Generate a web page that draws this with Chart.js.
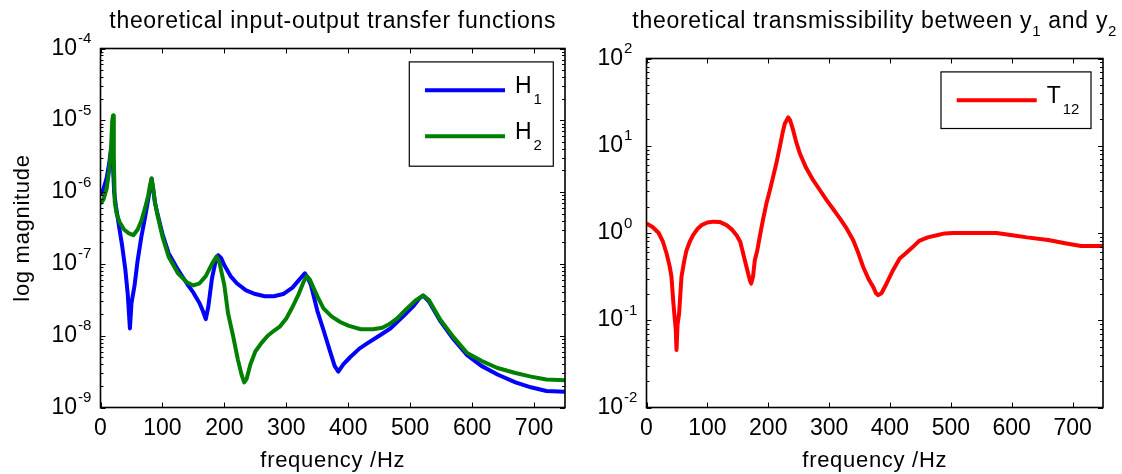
<!DOCTYPE html>
<html>
<head>
<meta charset="utf-8">
<script src="https://cdn.jsdelivr.net/npm/chart.js@4.4.1/dist/chart.umd.min.js"></script>
<style>
  html, body { margin: 0; padding: 0; background: #fff; }
  #wrap { position: relative; width: 1122px; height: 474px; overflow: hidden; background: #fff; }
  #wrap canvas { position: absolute; top: 0; }
</style>
</head>
<body>
<div id="wrap">
  <canvas id="tf" width="580" height="474" style="left:0px"></canvas>
  <canvas id="tr" width="542" height="474" style="left:580px"></canvas>
</div>
<script>
// ---- input-output transfer function H1 (Hz, magnitude) ----
const freqH1 = [0, 5, 10, 14, 17, 18.5, 20, 22, 25, 30,
  35, 40, 44, 47.5, 50, 55, 60, 66, 72, 77,
  80, 82.5, 85, 88, 92, 100, 110, 125, 140, 150,
  160, 165, 170, 174, 177, 180, 185, 190, 195, 200,
  210, 220, 235, 250, 265, 280, 295, 310, 320, 330,
  335, 340, 350, 360, 370, 378, 384, 392, 403, 418,
  430, 450, 468, 490, 506, 515, 521, 530, 549, 570,
  592, 615, 641, 670, 695, 720, 750];
const magH1 = [9.12e-7, 1.12e-6, 1.58e-6, 2.51e-6, 3.98e-6, 4.47e-6, 2.51e-6, 1.0e-6, 6.31e-7, 3.31e-7,
  1.78e-7, 8.51e-8, 3.80e-8, 1.26e-8, 2.82e-8, 5.01e-8, 1.12e-7, 2.40e-7, 4.47e-7, 7.94e-7,
  1.12e-6, 1.55e-6, 1.12e-6, 7.08e-7, 5.01e-7, 2.63e-7, 1.41e-7, 8.32e-8, 5.25e-8, 3.98e-8,
  2.82e-8, 2.24e-8, 1.70e-8, 2.51e-8, 3.98e-8, 6.31e-8, 1.0e-7, 1.32e-7, 1.20e-7, 9.55e-8,
  6.76e-8, 5.37e-8, 4.27e-8, 3.80e-8, 3.55e-8, 3.55e-8, 3.80e-8, 4.68e-8, 5.89e-8, 7.41e-8,
  6.31e-8, 5.01e-8, 2.24e-8, 1.20e-8, 6.31e-9, 3.80e-9, 3.16e-9, 3.98e-9, 5.01e-9, 6.61e-9,
  7.76e-9, 1.0e-8, 1.26e-8, 1.91e-8, 2.63e-8, 3.31e-8, 3.63e-8, 3.02e-8, 1.58e-8, 8.91e-9,
  5.37e-9, 3.80e-9, 2.88e-9, 2.24e-9, 1.91e-9, 1.70e-9, 1.66e-9];

// ---- input-output transfer function H2 (Hz, magnitude) ----
const freqH2 = [0, 5, 10, 14, 17, 19, 20.3, 21.5, 23, 26,
  31, 38, 45, 53, 60, 66, 72, 77, 80, 82.5,
  85, 88, 92, 100, 110, 125, 140, 150, 160, 170,
  180, 187, 192, 200, 206, 214, 222, 228, 232, 236,
  242, 250, 260, 270, 280, 290, 300, 310, 320, 328,
  333, 338, 350, 360, 373, 387, 400, 420, 440, 455,
  468, 479, 495, 510, 521, 530, 549, 570, 592, 615,
  641, 670, 695, 720, 750];
const magH2 = [6.92e-7, 7.94e-7, 1.12e-6, 2.0e-6, 3.98e-6, 1.0e-5, 1.17e-5, 3.16e-6, 7.24e-7, 5.01e-7,
  3.80e-7, 3.02e-7, 2.69e-7, 2.51e-7, 3.02e-7, 3.98e-7, 6.03e-7, 8.91e-7, 1.26e-6, 1.55e-6,
  1.12e-6, 7.08e-7, 4.79e-7, 2.40e-7, 1.26e-7, 7.41e-8, 5.50e-8, 5.01e-8, 5.37e-8, 6.76e-8,
  1.0e-7, 1.26e-7, 1.05e-7, 5.01e-8, 2.04e-8, 1.0e-8, 4.57e-9, 2.82e-9, 2.24e-9, 2.51e-9,
  3.98e-9, 6.03e-9, 7.94e-9, 1.0e-8, 1.17e-8, 1.35e-8, 1.74e-8, 2.51e-8, 3.80e-8, 5.62e-8,
  6.76e-8, 6.03e-8, 3.55e-8, 2.40e-8, 1.86e-8, 1.55e-8, 1.38e-8, 1.23e-8, 1.23e-8, 1.29e-8,
  1.48e-8, 1.74e-8, 2.40e-8, 3.16e-8, 3.63e-8, 3.16e-8, 1.66e-8, 9.55e-9, 5.75e-9, 4.47e-9,
  3.55e-9, 3.02e-9, 2.69e-9, 2.45e-9, 2.40e-9];

// ---- transmissibility T12 between y1 and y2 (Hz, ratio) ----
const freqT12 = [0, 10, 20, 27, 33, 38, 41, 43.8, 46, 48,
  49.3, 51, 53.6, 57.5, 62, 65.7, 71, 76.6, 84, 90.4,
  100, 110, 120, 131.5, 140, 148, 154, 158.8, 164, 169.8,
  172, 175, 178, 182, 186, 191, 197, 203, 208, 214,
  219, 224, 227.3, 232.8, 236, 241, 246, 252, 262, 273.8,
  285, 295.9, 306, 317.7, 329, 339.6, 348, 356, 365, 372.5,
  377, 380.7, 386, 394.5, 405, 416, 428, 436, 448, 462,
  477, 490, 504, 540, 575, 601, 625, 660, 690, 714,
  750];
const magT12 = [1.29, 1.17, 1.0, 0.794, 0.582, 0.417, 0.316, 0.170, 0.112, 0.0794,
  0.0457, 0.0891, 0.120, 0.316, 0.479, 0.631, 0.794, 0.944, 1.12, 1.23,
  1.32, 1.35, 1.34, 1.23, 1.10, 0.944, 0.794, 0.582, 0.417, 0.288,
  0.263, 0.316, 0.490, 0.631, 0.902, 1.38, 2.18, 3.16, 4.40, 6.61,
  9.70, 14.5, 18.0, 21.1, 19.5, 15.1, 11.0, 8.15, 5.62, 4.03,
  3.09, 2.38, 1.91, 1.47, 1.12, 0.826, 0.589, 0.408, 0.295, 0.241,
  0.204, 0.194, 0.204, 0.264, 0.375, 0.510, 0.603, 0.676, 0.813, 0.891,
  0.944, 0.989, 1.0, 1.0, 1.0, 0.944, 0.891, 0.832, 0.759, 0.708,
  0.708];

// ---- axis ticks and labels ----
const freqTicks = [0, 100, 200, 300, 400, 500, 600, 700];
const decadesH = [1e-9, 1e-8, 1e-7, 1e-6, 1e-5, 1e-4];
const decadeExpH = ['-9', '-8', '-7', '-6', '-5', '-4'];
const decadesT = [1e-2, 1e-1, 1e0, 1e1, 1e2];
const decadeExpT = ['-2', '-1', '0', '1', '2'];

const FONT = '"Liberation Sans", Arial, Helvetica, sans-serif';

function points(xs, ys) { return xs.map((x, i) => ({ x, y: ys[i] })); }

// Boxed axes with inward ticks, power-of-ten labels, titles and legend
const boxedAxes = {
  id: 'boxedAxes',
  afterDraw(chart, _args, o) {
    const { ctx, chartArea: a } = chart;
    const xs = chart.scales.x, ys = chart.scales.y;
    ctx.save();

    // tick marks pointing into the plot on all four sides
    ctx.strokeStyle = '#000';
    ctx.lineWidth = 1;
    ctx.beginPath();
    o.xTicks.forEach(v => {
      const px = Math.round(xs.getPixelForValue(v)) + 0.5;
      ctx.moveTo(px, a.bottom); ctx.lineTo(px, a.bottom - 5);
      ctx.moveTo(px, a.top); ctx.lineTo(px, a.top + 5);
    });
    o.yTicks.forEach((dec, i) => {
      const last = i === o.yTicks.length - 1;
      for (let m = 1; m <= (last ? 1 : 9); m++) {
        const py = Math.round(ys.getPixelForValue(m * dec)) + 0.5;
        const len = m === 1 ? 5 : 3;
        ctx.moveTo(a.left, py); ctx.lineTo(a.left + len, py);
        ctx.moveTo(a.right, py); ctx.lineTo(a.right - len, py);
      }
    });
    ctx.stroke();

    ctx.lineWidth = 1.6;
    ctx.strokeRect(a.left, a.top, a.right - a.left, a.bottom - a.top);

    // tick labels
    ctx.fillStyle = '#000';
    ctx.textBaseline = 'alphabetic';
    ctx.font = '23px ' + FONT;
    ctx.textAlign = 'center';
    o.xTicks.forEach(v => ctx.fillText(String(v), xs.getPixelForValue(v), a.bottom + 27.5));
    ctx.textAlign = 'left';
    o.yTicks.forEach((v, i) => {
      const py = ys.getPixelForValue(v);
      const x0 = a.left - 49;
      ctx.font = '23px ' + FONT;
      ctx.fillText('10', x0, py + 6);
      const w = ctx.measureText('10').width;
      ctx.font = '15px ' + FONT;
      ctx.fillText(o.yExp[i], x0 + w + 1, py - 5.5);
    });

    // axis titles
    ctx.letterSpacing = '0.7px';
    ctx.font = '22px ' + FONT;
    ctx.textAlign = 'center';
    ctx.fillText(o.xTitle, (a.left + a.right) / 2, 467);
    if (o.yTitle) {
      ctx.save();
      ctx.translate(29, (a.top + a.bottom) / 2);
      ctx.rotate(-Math.PI / 2);
      ctx.fillText(o.yTitle, 0, 0);
      ctx.restore();
    }

    // title, with subscripted parts
    ctx.textAlign = 'left';
    const fontOf = sub => (sub ? '15px ' : '23px ') + FONT;
    let total = 0;
    o.title.forEach(([t, sub]) => { ctx.font = fontOf(sub); total += ctx.measureText(t).width; });
    let tx = (a.left + a.right) / 2 - total / 2;
    o.title.forEach(([t, sub]) => {
      ctx.font = fontOf(sub);
      ctx.fillText(t, tx, sub ? 36 : 28);
      tx += ctx.measureText(t).width;
    });
    ctx.letterSpacing = '0px';

    // legend
    const L = o.legend;
    const bx = a.right - L.right - L.w, by = a.top + L.top;
    ctx.fillStyle = '#fff';
    ctx.fillRect(bx, by, L.w, L.h);
    ctx.strokeStyle = '#000';
    ctx.lineWidth = 1.2;
    ctx.strokeRect(bx, by, L.w, L.h);
    chart.data.datasets.forEach((ds, k) => {
      const ly = by + 28.3 + k * 46;
      ctx.strokeStyle = ds.borderColor;
      ctx.lineWidth = 4;
      ctx.beginPath();
      ctx.moveTo(bx + 15.7, ly); ctx.lineTo(bx + 95.7, ly);
      ctx.stroke();
      ctx.fillStyle = '#000';
      ctx.font = '23px ' + FONT;
      const base = ds.label.charAt(0);
      ctx.fillText(base, bx + 105.7, ly + 2.5);
      const bw = ctx.measureText(base).width;
      ctx.font = '15px ' + FONT;
      ctx.fillText(ds.label.slice(1), bx + 105.7 + bw + 2, ly + 14);
    });
    ctx.restore();
  }
};

function makeChart(id, datasets, yMin, yMax, pad, yWidth, axes) {
  return new Chart(document.getElementById(id), {
    type: 'line',
    data: { datasets },
    options: {
      responsive: false,
      animation: false,
      devicePixelRatio: 1,
      events: [],
      layout: { padding: pad },
      elements: { point: { radius: 0 }, line: { tension: 0, borderWidth: 4, borderJoinStyle: 'round', borderCapStyle: 'butt' } },
      scales: {
        x: {
          type: 'linear', min: 0, max: 750,
          grid: { display: false, drawTicks: false },
          border: { display: false },
          ticks: { display: false },
          afterFit: s => { s.height = 66.5; }
        },
        y: {
          type: 'logarithmic', min: yMin, max: yMax,
          grid: { display: false, drawTicks: false },
          border: { display: false },
          ticks: { display: false },
          afterFit: s => { s.width = yWidth; }
        }
      },
      plugins: {
        legend: { display: false },
        title: { display: false },
        tooltip: { enabled: false },
        boxedAxes: axes
      }
    },
    plugins: [boxedAxes]
  });
}

makeChart('tf', [
  { label: 'H1', data: points(freqH1, magH1), borderColor: '#0000ff', order: 1 },
  { label: 'H2', data: points(freqH2, magH2), borderColor: '#008000', order: 0 }
], 1e-9, 1e-4, { left: 0, top: 48.5, right: 15, bottom: 0 }, 100.5, {
  xTicks: freqTicks, yTicks: decadesH, yExp: decadeExpH,
  xTitle: 'frequency /Hz', yTitle: 'log magnitude',
  title: [['theoretical input-output transfer functions', false]],
  legend: { right: 11.7, top: 13.4, w: 144, h: 104.3 }
});

makeChart('tr', [
  { label: 'T12', data: points(freqT12, magT12), borderColor: '#ff0000' }
], 1e-2, 1e2, { left: 0, top: 58.5, right: 19, bottom: 0 }, 66.5, {
  xTicks: freqTicks, yTicks: decadesT, yExp: decadeExpT,
  xTitle: 'frequency /Hz', yTitle: null,
  title: [['theoretical transmissibility between y', false], ['1', true], [' and y', false], ['2', true]],
  legend: { right: 12, top: 13.4, w: 150, h: 56.6 }
});
</script>
</body>
</html>
